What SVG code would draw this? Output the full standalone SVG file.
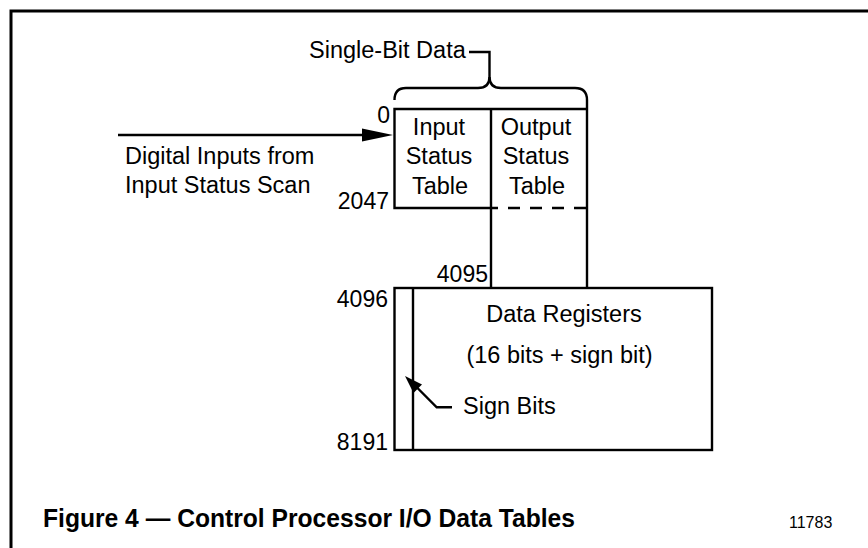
<svg xmlns="http://www.w3.org/2000/svg" width="868" height="548" viewBox="0 0 868 548">
<style>
  .ln { fill: none; stroke: #000; stroke-width: 2.4; }
  .t { font-family: "Liberation Sans", Arial, sans-serif; font-size: 23.5px; fill: #000; }
  .n { font-family: "Liberation Sans", Arial, sans-serif; font-size: 23px; fill: #000; text-anchor: end; }
  .c { text-anchor: middle; }
  .cap { font-family: "Liberation Sans", Arial, sans-serif; font-size: 25px; font-weight: bold; fill: #000; }
  .id { font-family: "Liberation Sans", Arial, sans-serif; font-size: 16px; fill: #000; }
</style>
<rect width="868" height="548" fill="#fff"/>
<g id="frame">
  <path d="M11 548 V11 H868" fill="none" stroke="#000" stroke-width="3"/>
</g>
<g id="single-bit-data">
  <text class="t" x="309" y="58">Single-Bit Data</text>
  <path class="ln" d="M469 52 H489.5 V77 Q489.5 88 478 88 H406 Q394.5 88 394.5 100"/>
  <path class="ln" d="M489.5 77 Q489.5 88 501 88 H575 Q587 88 587 100"/>
</g>
<g id="input-status-table">
  <path class="ln" d="M491 109 H394.5 V208 H491"/>
  <text class="t c" x="439" y="135">Input</text>
  <text class="t c" x="439" y="164">Status</text>
  <text class="t c" x="440" y="194">Table</text>
  <text class="n" x="390" y="123">0</text>
  <text class="n" x="389" y="209">2047</text>
</g>
<g id="output-status-table">
  <path class="ln" d="M491 109 H587"/>
  <path class="ln" d="M491 208 H587" stroke-dasharray="12 10" stroke-dashoffset="5"/>
  <text class="t c" x="536" y="135">Output</text>
  <text class="t c" x="536" y="164">Status</text>
  <text class="t c" x="537" y="194">Table</text>
</g>
<g id="data-registers">
  <rect class="ln" x="394.5" y="288" width="317.5" height="162"/>
  <path class="ln" d="M413 288 V450"/>
  <text class="t c" x="564" y="322">Data Registers</text>
  <text class="t c" x="559.5" y="363">(16 bits + sign bit)</text>
  <text class="t" x="463" y="414">Sign Bits</text>
  <text class="n" x="488" y="282">4095</text>
  <text class="n" x="388" y="307">4096</text>
  <text class="n" x="388" y="450">8191</text>
</g>
<g id="digital-inputs">
  <text class="t" x="125" y="164">Digital Inputs from</text>
  <text class="t" x="125" y="193">Input Status Scan</text>
</g>
<g id="connectors">
  <path class="ln" d="M118 135 H364"/>
  <polygon points="362,128.5 393,135 362,141.5" fill="#000"/>
  <path class="ln" d="M491 109 V288"/>
  <path class="ln" d="M587 100 V288"/>
  <path class="ln" d="M452 407.3 H436.7 L414 384.5"/>
  <polygon points="405,376 422,384.5 413.5,393" fill="#000"/>
</g>
<g id="caption">
  <text class="cap" x="43" y="527" textLength="532" lengthAdjust="spacingAndGlyphs">Figure 4 — Control Processor I/O Data Tables</text>
  <text class="id" x="789" y="528">11783</text>
</g>
</svg>
